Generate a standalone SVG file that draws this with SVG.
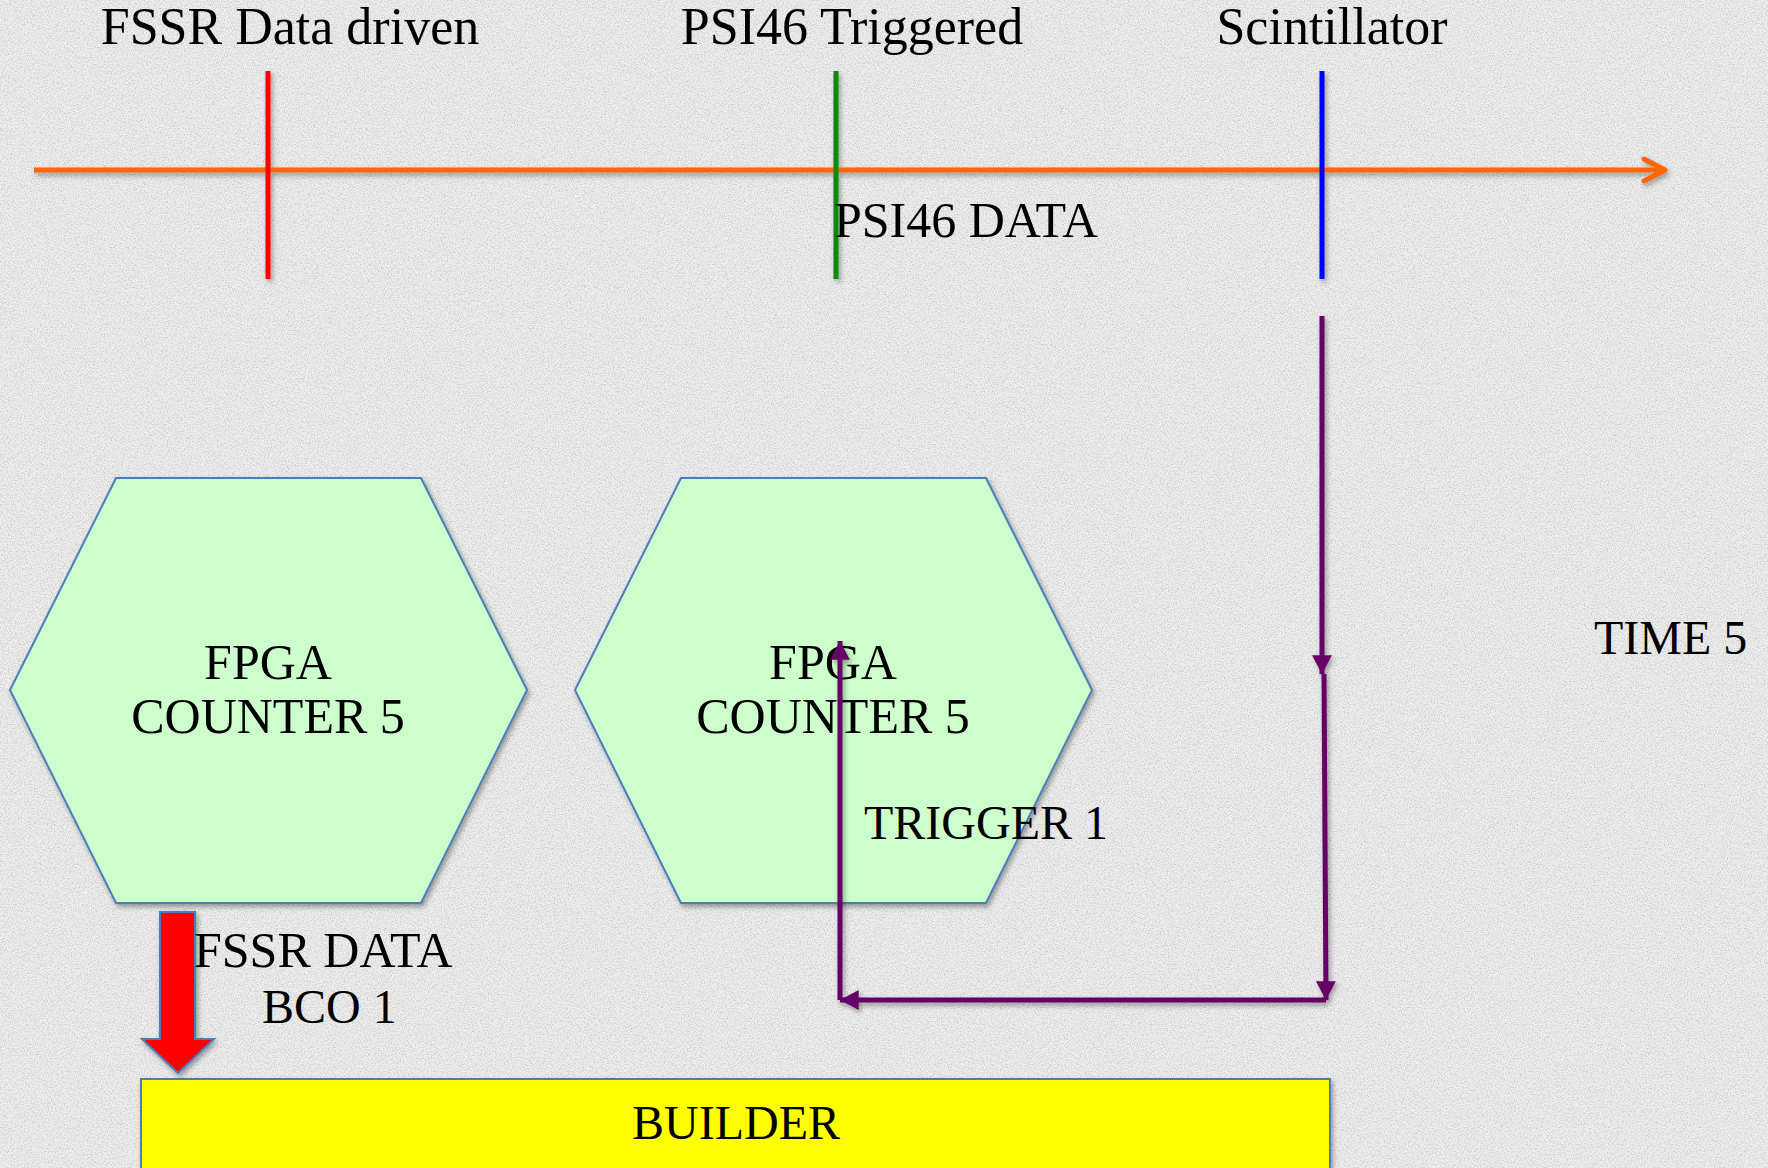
<svg xmlns="http://www.w3.org/2000/svg" width="1768" height="1168" viewBox="0 0 1768 1168">
<style>
.t{font-family:"Liberation Serif","Times New Roman",serif;fill:#000;}
.title{font-size:52px;}
.lbl{font-size:48px;}
.lbl50{font-size:50px;}
.hexlbl{font-size:50px;text-anchor:middle;}
.hex{fill:#CCFFCC;stroke:#4A7EBB;stroke-width:2;}
.tick{stroke-width:5;fill:none;}
.pur{stroke:#660066;stroke-width:5;fill:none;}
</style>
<defs>
<filter id="noise" x="0" y="0" width="100%" height="100%">
<feTurbulence type="fractalNoise" baseFrequency="0.7" numOctaves="3" seed="7"/>
<feColorMatrix type="matrix" values="0 0 0 0 0.5  0 0 0 0 0.5  0 0 0 0 0.5  3 0 0 0 -1.25"/>
</filter>
<filter id="sh" x="-10%" y="-10%" width="130%" height="130%">
<feDropShadow dx="2" dy="3" stdDeviation="2.5" flood-color="#000" flood-opacity="0.35"/>
</filter>
<marker id="chev" markerUnits="userSpaceOnUse" markerWidth="30" markerHeight="30" viewBox="-26 -15 30 30" refX="0" refY="0" orient="auto" overflow="visible">
<path d="M-21,-11 L0,0 L-21,11" fill="none" stroke="#FF6600" stroke-width="5" stroke-linecap="round" stroke-linejoin="round"/>
</marker>
<marker id="tri" markerUnits="userSpaceOnUse" markerWidth="22" markerHeight="22" viewBox="-18 -10 20 20" refX="0" refY="0" orient="auto" overflow="visible">
<path d="M-17,-9 L0,0 L-17,9 Z" fill="#660066"/>
</marker>
</defs>
<g id="background">
<rect x="0" y="0" width="1768" height="1168" fill="#EEEEEE"/>
<rect x="0" y="0" width="1768" height="1168" filter="url(#noise)" opacity="0.6"/>
</g>
<g id="timeline" filter="url(#sh)">
<line x1="34" y1="170" x2="1665" y2="170" stroke="#FF6600" stroke-width="5" marker-end="url(#chev)"/>
<line class="tick" x1="268" y1="71" x2="268" y2="279" stroke="#FF0000"/>
<line class="tick" x1="836" y1="71" x2="836" y2="279" stroke="#0A8A0A"/>
<line class="tick" x1="1322" y1="71" x2="1322" y2="279" stroke="#0000FF"/>
</g>
<g id="titles">
<text class="t title" x="290" y="44" text-anchor="middle">FSSR Data driven</text>
<text class="t title" x="852" y="44" text-anchor="middle">PSI46 Triggered</text>
<text class="t title" x="1332" y="44" text-anchor="middle">Scintillator</text>
</g>
<g id="fpga1">
<polygon class="hex" filter="url(#sh)" points="116,478 421,478 527,690 421,903 116,903 10,690"/>
<text class="t hexlbl" x="268" y="679">FPGA</text>
<text class="t hexlbl" x="268" y="733">COUNTER 5</text>
</g>
<g id="fpga2">
<polygon class="hex" filter="url(#sh)" points="681,478 986,478 1092,690 986,903 681,903 575,690"/>
<text class="t hexlbl" x="833" y="679">FPGA</text>
<text class="t hexlbl" x="833" y="733">COUNTER 5</text>
</g>
<g id="builder">
<rect x="141" y="1079" width="1189" height="92" fill="#FFFF00" stroke="#4A7EBB" stroke-width="2" filter="url(#sh)"/>
<text class="t lbl" x="736" y="1139" text-anchor="middle">BUILDER</text>
</g>
<g id="connectors" filter="url(#sh)">
<path class="pur" d="M1322,316 L1322,674" marker-end="url(#tri)"/>
<path class="pur" d="M1324,674 L1326,1000" marker-end="url(#tri)"/>
<path class="pur" d="M1326,1000 L840,1000" marker-end="url(#tri)"/>
<path class="pur" d="M840,1000 L840,641" marker-end="url(#tri)"/>
<polygon points="160,912 195,912 195,1039 214,1039 178,1073 142,1039 160,1039" fill="#FF0000" stroke="#4A7EBB" stroke-width="2"/>
</g>
<g id="labels">
<text class="t lbl50" x="834" y="237">PSI46 DATA</text>
<text class="t lbl" x="864" y="839">TRIGGER 1</text>
<text class="t lbl" x="1594" y="654">TIME 5</text>
<text class="t lbl50" x="194" y="967">FSSR DATA</text>
<text class="t lbl" x="262" y="1023">BCO 1</text>
</g>
</svg>
